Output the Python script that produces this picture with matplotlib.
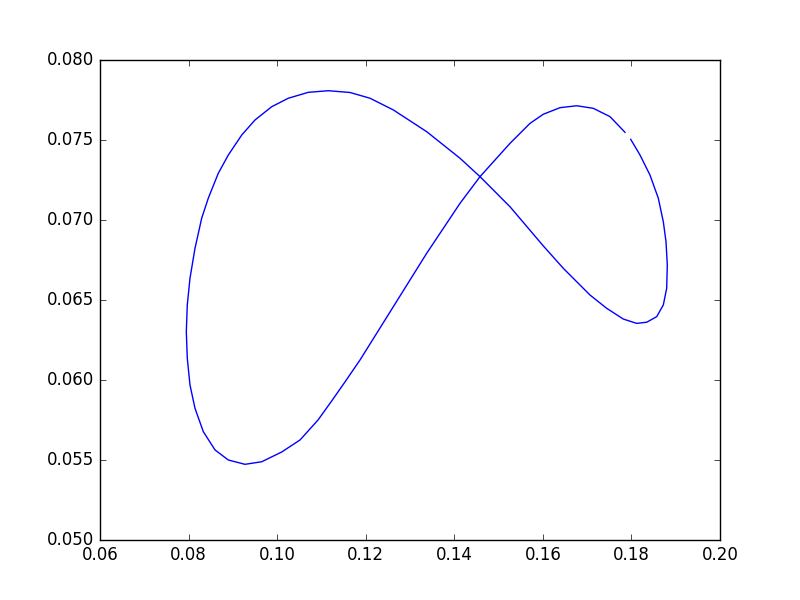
import matplotlib
matplotlib.use("Agg")
import matplotlib.pyplot as plt

# Trajectory (continuous path; a small gap near x=0.179, y=0.075)
x_vals = [0.17984, 0.18194, 0.18419, 0.18607, 0.18720, 0.18781, 0.18810, 0.18796,
          0.18720, 0.18571, 0.18345, 0.18119, 0.17816, 0.17442, 0.17065, 0.16462,
          0.16010, 0.15258, 0.14581, 0.14129, 0.13377, 0.12623, 0.12097, 0.11645,
          0.11155, 0.10704, 0.10252, 0.09877, 0.09500, 0.09200, 0.08897, 0.08671,
          0.08445, 0.08296, 0.08145, 0.08032, 0.07971, 0.07949, 0.07971, 0.08032,
          0.08145, 0.08333, 0.08597, 0.08897, 0.09274, 0.09651, 0.10103, 0.10516,
          0.10923, 0.11232, 0.11532, 0.11871, 0.12623, 0.13377, 0.14129, 0.14581,
          0.15258, 0.15710, 0.16010, 0.16387, 0.16764, 0.17139, 0.17516, 0.17855]
y_vals = [0.07504, 0.07406, 0.07281, 0.07136, 0.06989, 0.06864, 0.06719, 0.06573,
          0.06469, 0.06396, 0.06361, 0.06354, 0.06381, 0.06448, 0.06531, 0.06698,
          0.06838, 0.07083, 0.07271, 0.07386, 0.07552, 0.07688, 0.07761, 0.07797,
          0.07808, 0.07798, 0.07761, 0.07708, 0.07625, 0.07531, 0.07406, 0.07292,
          0.07136, 0.07011, 0.06823, 0.06636, 0.06469, 0.06302, 0.06136, 0.05969,
          0.05823, 0.05677, 0.05563, 0.05500, 0.05473, 0.05489, 0.05550, 0.05625,
          0.05750, 0.05869, 0.05988, 0.06125, 0.06458, 0.06792, 0.07104, 0.07271,
          0.07479, 0.07604, 0.07661, 0.07702, 0.07714, 0.07698, 0.07646, 0.07548]

x_ticks = [0.06, 0.08, 0.10, 0.12, 0.14, 0.16, 0.18, 0.20]
x_tick_labels = ["0.06", "0.08", "0.10", "0.12", "0.14", "0.16", "0.18", "0.20"]
y_ticks = [0.050, 0.055, 0.060, 0.065, 0.070, 0.075, 0.080]
y_tick_labels = ["0.050", "0.055", "0.060", "0.065", "0.070", "0.075", "0.080"]

plt.style.use("classic")
fig = plt.figure(figsize=(8, 6), dpi=100)
ax = fig.add_subplot(111)
ax.plot(x_vals, y_vals, color="b", linewidth=1)
ax.set_xlim(0.06, 0.20)
ax.set_ylim(0.050, 0.080)
ax.set_xticks(x_ticks)
ax.set_xticklabels(x_tick_labels)
ax.set_yticks(y_ticks)
ax.set_yticklabels(y_tick_labels)
fig.savefig("out.png", dpi=100)
